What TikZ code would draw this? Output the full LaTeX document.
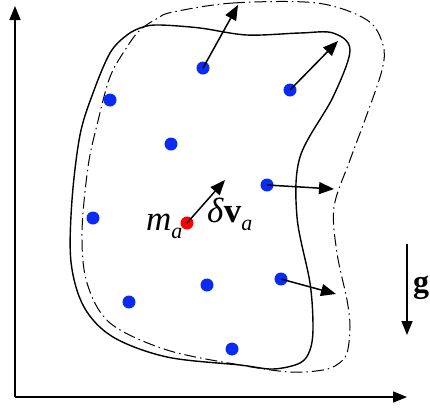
\documentclass[tikz,border=0pt]{standalone}
\usepackage{fontspec}
\setmainfont{Liberation Serif}
\usepackage{tikz}
\usetikzlibrary{arrows.meta}
\definecolor{Particle}{HTML}{0A2BF5}
\definecolor{Centre}  {HTML}{FF0000}
\definecolor{Ink}     {HTML}{000000}

\tikzset{
  particle/.style={circle, fill=Particle, inner sep=0pt, minimum size=13pt},
  vel/.style={line width=1.5pt, draw=Ink, -{Triangle[length=15pt,width=12pt]}},
  axis/.style={line width=1.5pt, draw=Ink, -{Triangle[length=14pt,width=11pt]}},
  label/.style={anchor=base west, inner sep=0pt, font=\fontsize{35}{38}\selectfont},
}
\newcommand{\subidx}[1]{\raisebox{-8pt}{\fontsize{22}{24}\selectfont\itshape #1}}

\begin{document}
\begin{tikzpicture}[x=1pt, y=-1pt]
  \useasboundingbox (0,0) rectangle (430,408);
  % Axes
  \coordinate (origin) at (15,397);
  \coordinate (ytop) at (15,6);
  \coordinate (xend) at (407,397);
  \draw[axis] (origin) -- (ytop);
  \draw[axis] (origin) -- (xend);
  % Body at time t (solid)
  \draw[line width=1.4pt, Ink] plot[smooth cycle, tension=0.55] coordinates {
    (143,27) (127,35) (110,53) (93,93) (80,135) (72,200) (71,262)
    (84,307) (113,337) (167,357) (240,365) (273,369) (300,363)
    (310,350) (313,327) (310,283) (297,217) (300,157) (333,97)
    (350,50) (333,33) (300,33) (247,35) (200,28) (160,25)};
  % Body at time t+dt (dash-dot)
  \draw[line width=1pt, Ink, dash pattern=on 12pt off 4pt on 1.5pt off 4pt]
    plot[smooth cycle, tension=0.55] coordinates {
    (173,12) (233,3) (317,3) (367,20) (383,45) (382,70) (366,117)
    (350,160) (334,207) (337,253) (347,300) (350,327) (347,353)
    (338,364) (323,370) (290,372) (240,365) (167,350) (110,323)
    (87,283) (82,233) (88,167) (97,125) (110,77) (127,47) (140,30) (158,18)};
  % Particles
  \node[particle] (p1) at (203,68) {};
  \node[particle] (p2) at (110,100) {};
  \node[particle] (p3) at (290,90) {};
  \node[particle] (p4) at (171,144) {};
  \node[particle] (p5) at (267,185) {};
  \node[particle] (p6) at (93,218) {};
  \node[particle] (p7) at (207,285) {};
  \node[particle] (p8) at (281,279) {};
  \node[particle] (p9) at (129,302) {};
  \node[particle] (p10) at (232,349) {};
  \node[particle, fill=Centre] (ma) at (187,223) {};
  % Velocity arrows
  \coordinate (t1) at (238,5);
  \coordinate (t3) at (338,41);
  \coordinate (t5) at (334,189);
  \coordinate (t8) at (336,294);
  \coordinate (tma) at (225,180);
  \draw[vel] (p1.center) -- (t1);
  \draw[vel] (p3.center) -- (t3);
  \draw[vel] (p5.center) -- (t5);
  \draw[vel] (p8.center) -- (t8);
  \draw[vel] (ma.center) -- (tma);
  % Labels
  \node[label] (lma) at (146,230) {\textit{m}\subidx{a}};
  \node[label] (ldv) at (207,222) {\textit{δ}\textbf{v}\subidx{a}};
  % Gravity
  \coordinate (gtop) at (407,244);
  \coordinate (gbot) at (407,335);
  \draw[axis] (gtop) -- (gbot);
  \node[label, font=\fontsize{32}{36}\selectfont\bfseries] (lg) at (413,292) {g};
\end{tikzpicture}
\end{document}
